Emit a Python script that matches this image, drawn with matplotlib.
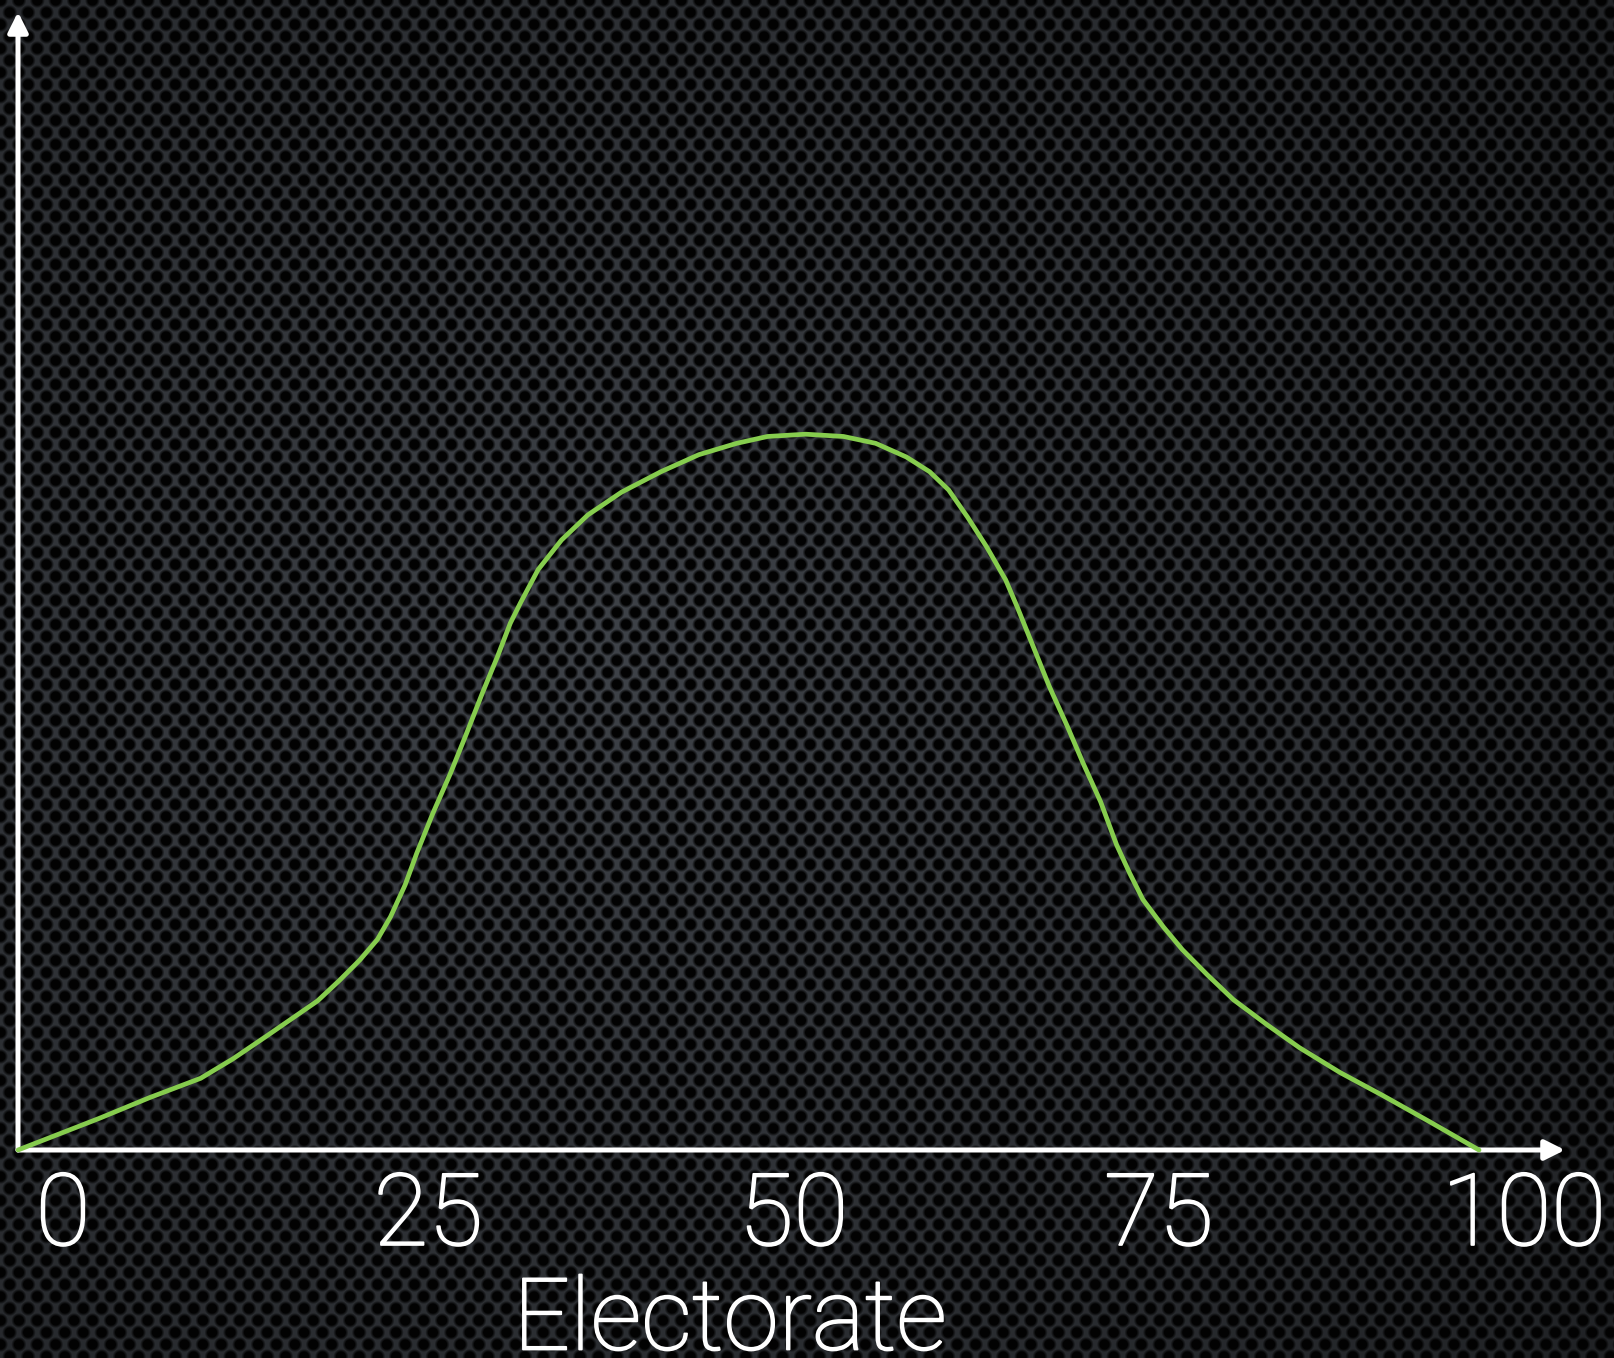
import numpy as np
import matplotlib
matplotlib.use("Agg")
import matplotlib.pyplot as plt
import matplotlib.transforms as mtransforms
import matplotlib.patheffects as pe

# curve (x: share of electorate, y: relative height)
electorate = [0.0, 2.2, 5.6, 9.0, 12.5, 14.7, 17.0, 20.5, 22.0, 23.4, 24.6,
              25.5, 26.5, 27.3, 28.4, 29.6, 30.7, 31.8, 32.8, 33.7, 34.4,
              35.6, 37.2, 39.0, 41.3, 44.0, 46.6, 49.2, 51.3, 53.9, 56.5,
              58.7, 60.8, 62.4, 63.7, 65.0, 66.3, 67.6, 68.4, 69.5, 70.6,
              71.8, 72.9, 74.1, 75.2, 76.1, 77.0, 78.4, 79.7, 81.4, 83.2,
              85.5, 87.7, 90.5, 93.4, 96.6, 100.0]
support = [0.0, 1.1, 2.8, 4.6, 6.3, 8.0, 10.0, 13.1, 14.9, 16.7, 18.5,
           20.5, 23.3, 26.1, 29.6, 33.1, 36.6, 40.2, 43.3, 46.3, 48.1,
           51.0, 53.6, 55.8, 57.8, 59.6, 61.1, 62.1, 62.7, 62.9, 62.7,
           62.1, 60.9, 59.6, 58.0, 55.6, 53.0, 50.1, 47.7, 44.2, 40.7,
           37.3, 34.0, 30.6, 26.8, 24.3, 22.0, 19.6, 17.6, 15.4, 13.2,
           11.0, 9.0, 6.8, 4.8, 2.5, 0.0]
tick_values = [0, 25, 50, 75, 100]
tick_labels = ["0", "25", "50", "75", "100"]

W, H = 1614, 1358
fig = plt.figure(figsize=(W / 100, H / 100), dpi=100)

# perforated metal background (staggered rows of holes)
yy, xx = np.mgrid[0:H, 0:W].astype(float)
a, b = 18.4, 12.0
d = np.full(xx.shape, 99.0)
j0 = np.round(yy / b)
for dj in (-1, 0, 1):
    j = j0 + dj
    shift = (j % 2) * a / 2
    i = np.round((xx - shift) / a)
    d = np.minimum(d, np.hypot(xx - (i * a + shift), yy - j * b))
hole = np.clip((d - 4.6) / 3.0, 0, 1)
glow = 1.0 - 0.5 * np.clip(np.hypot((xx - 600) / W, (yy - 650) / H) / 0.8, 0, 1)
ridge = np.array([60, 64, 70]) / 255.0
img = 0.01 + hole[..., None] * ridge[None, None, :] * glow[..., None]
bg = fig.add_axes([0, 0, 1, 1])
bg.imshow(np.clip(img, 0, 1), aspect="auto", interpolation="bilinear")
bg.axis("off")

x0, x100, xend = 18, 1479, 1565
ybase, ytop = 1150, 12
ax = fig.add_axes([x0 / W, (H - ybase) / H, (xend - x0) / W, (ybase - ytop) / H])
ax.patch.set_alpha(0)
ax.set_xlim(0, (xend - x0) / (x100 - x0) * 100)
ax.set_ylim(0, 100)
for s in ax.spines.values():
    s.set_visible(False)

arrow = dict(arrowstyle="-|>", color="white", lw=3.6, mutation_scale=30,
             shrinkA=0, shrinkB=0)
ax.annotate("", xy=(1, 0), xytext=(0, 0), xycoords="axes fraction",
            textcoords="axes fraction", arrowprops=arrow, zorder=2)
ax.annotate("", xy=(0, 1), xytext=(0, 0), xycoords="axes fraction",
            textcoords="axes fraction", arrowprops=arrow, zorder=2)

ax.plot(electorate, support, color="#86CC4E", lw=3.4, zorder=3,
        solid_capstyle="round", solid_joinstyle="round", clip_on=False)

font = dict(family=["Roboto", "DejaVu Sans"], weight="light")
thicker = [pe.withStroke(linewidth=1.3, foreground="white")]
ax.set_yticks([])
ax.set_xticks(tick_values, tick_labels, color="white", fontsize=72, **font)
ax.tick_params(axis="x", length=0, pad=14)
offset = mtransforms.ScaledTranslation(0.45, 0, fig.dpi_scale_trans)
for lab in ax.get_xticklabels():
    lab.set_transform(lab.get_transform() + offset)
    lab.set_path_effects(thicker)

ax.set_xlabel("Electorate", color="white", fontsize=72, **font)
ax.xaxis.label.set_path_effects(thicker)
ax.xaxis.set_label_coords((730 - x0) / (xend - x0), -(1274 - ybase) / (ybase - ytop))

fig.savefig("out.png", dpi=100, facecolor="black")
